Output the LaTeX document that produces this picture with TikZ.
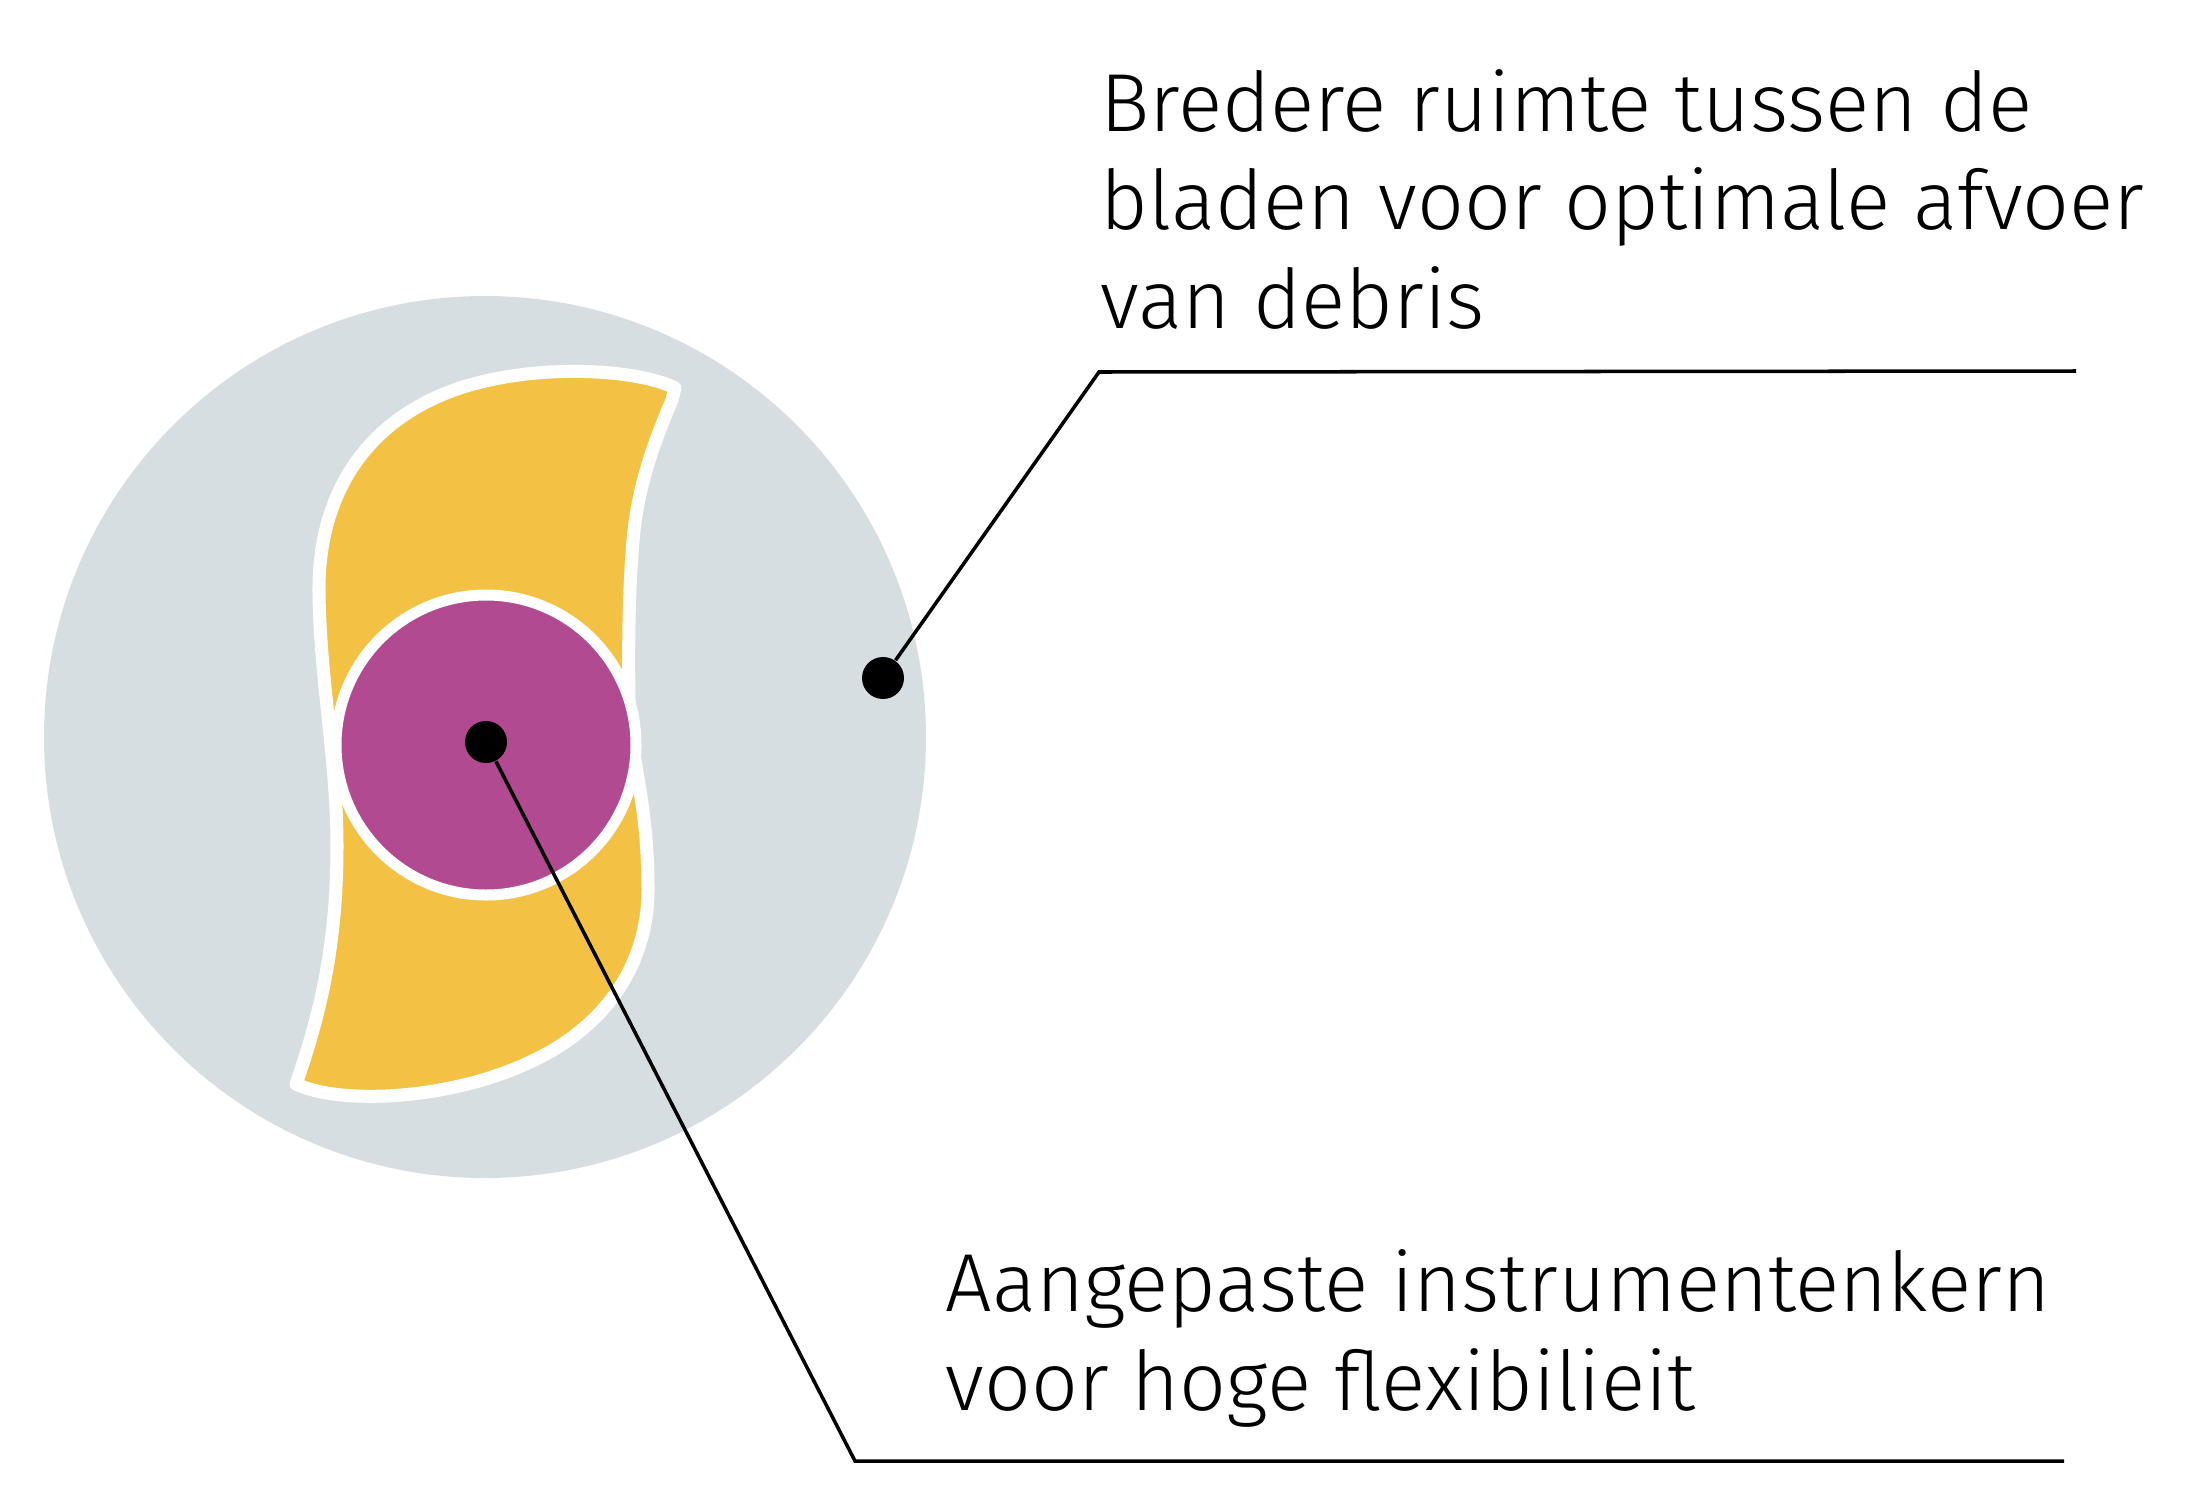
\documentclass[tikz,border=0pt]{standalone}
\usepackage{fontspec}
\setmainfont{Fira Sans Light}

\definecolor{discgray}{RGB}{215,222,226}
\definecolor{bladeyellow}{RGB}{243,194,69}
\definecolor{coremagenta}{RGB}{178,74,145}

\begin{document}
\begin{tikzpicture}[x=0.01cm,y=-0.01cm]
\tikzset{dot/.style={circle,fill=black,inner sep=0pt,minimum size=0.42cm},
  leader/.style={black,line width=1pt},
  callout/.style={inner sep=0pt,align=left,anchor=base west,
    font=\fontsize{23.4}{27.9}\selectfont}}
\useasboundingbox (0,0) rectangle (2212,1506);
% cross section of the file
\fill [discgray] (485,737) circle (441);
\draw [white,line width=0.13cm,line join=round,fill=bladeyellow]
  (675,388) .. controls (640,370) and (540,362) .. (460,388)
  .. controls (370,418) and (318,490) .. (319,592)
  .. controls (320,680) and (337,760) .. (337,846)
  .. controls (337,940) and (322,1010) .. (296,1084)
  .. controls (340,1105) and (450,1100) .. (530,1062)
  .. controls (600,1030) and (648,970) .. (648,889)
  .. controls (648,800) and (630,760) .. (629,700)
  .. controls (628,640) and (629,580) .. (634,530)
  .. controls (640,480) and (655,440) .. (672,400) -- cycle;
\draw [white,line width=0.11cm,fill=coremagenta] (486,745) circle (150);
% dots and leaders
\node [dot] (bladedot) at (883,678) {};
\node [dot] (coredot) at (486,742) {};
\coordinate (bladeknee) at (1099,372);
\coordinate (bladeend) at (2076,371);
\coordinate (coreknee) at (855,1461);
\coordinate (coreend) at (2064,1461);
\draw [leader] (bladedot) -- (bladeknee) -- (bladeend);
\draw [leader] (coredot) -- (coreknee) -- (coreend);
% texts
\node [callout] (bladetext) at (1100,328) {Bredere ruimte tussen de\\bladen voor optimale afvoer\\van debris};
\node [callout] (coretext) at (945,1410) {Aangepaste instrumentenkern\\voor hoge flexibilieit};
\end{tikzpicture}
\end{document}
